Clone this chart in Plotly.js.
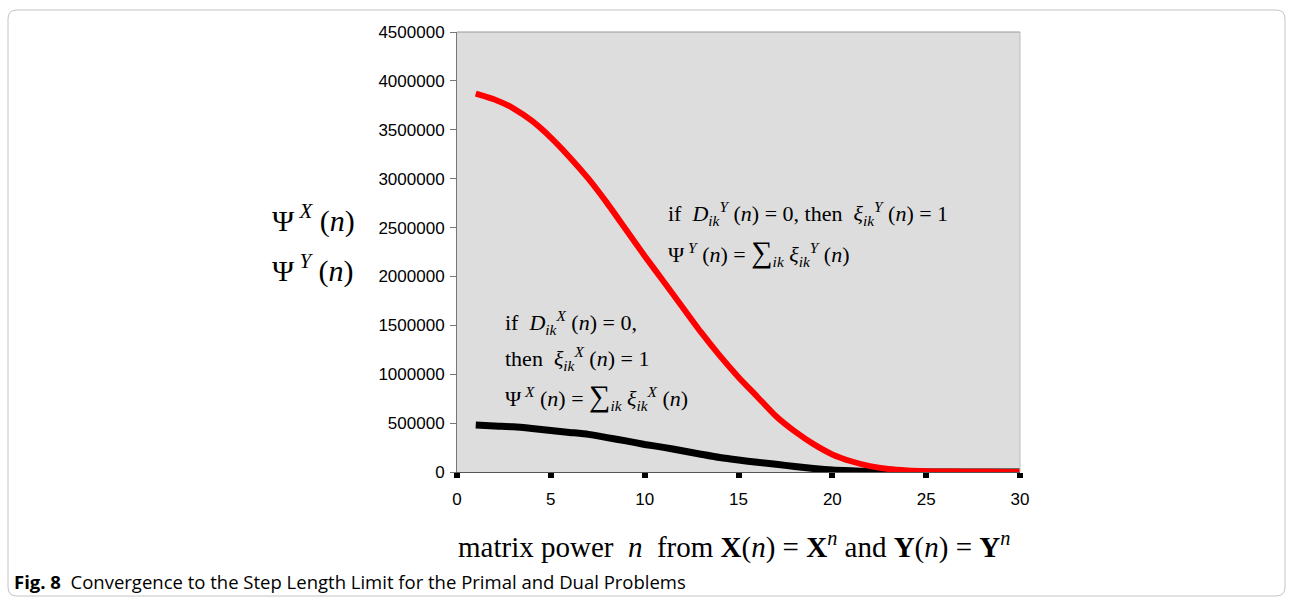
<!DOCTYPE html>
<html>
<head>
<meta charset="utf-8">
<script src="https://cdn.plot.ly/plotly-3.0.1.min.js"></script>
<style>
html,body{margin:0;padding:0;background:#fff;}
#chart{width:1293px;height:598px;}
</style>
</head>
<body>
<div id="chart"></div>
<script>
// Data
const powerN = [1,2,3,4,5,6,7,8,9,10,11,12,13,14,15,16,17,18,19,20,21,22,23,24,25,26,27,28,29,30];
const psiY = [3870000,3810000,3720000,3590000,3420000,3220000,3000000,2750000,2480000,2210000,
              1950000,1690000,1430000,1190000,970000,770000,570000,415000,285000,180000,
              110000,60000,30000,15000,8000,5000,3000,2000,1000,500];
const psiX = [480000,470000,462000,445000,425000,405000,385000,352000,318000,282000,
              252000,218000,182000,148000,122000,100000,80000,56000,36000,20000,
              12000,6000,3000,1500,700,400,200,100,50,20];
const xTicks = [0,5,10,15,20,25,30];
const yTicks = [0,500000,1000000,1500000,2000000,2500000,3000000,3500000,4000000,4500000];

// plot-area geometry in pixels
const W = 1293, H = 598;
const L = 457, R = 1020, T = 32, B = 472;
const px = x => (x - L) / (R - L);
const py = y => (B - y) / (B - T);

const serif = "Liberation Serif, Times New Roman, serif";

const traces = [
  {x: powerN, y: psiX, type: 'scatter', mode: 'lines', name: 'ΨX',
   line: {color: '#000000', width: 7, shape: 'spline', smoothing: 0.6}},
  {x: powerN, y: psiY, type: 'scatter', mode: 'lines', name: 'ΨY',
   line: {color: '#ff0000', width: 6, shape: 'spline', smoothing: 0.6}}
];

function ann(x, y, text, size, anchor) {
  return {xref: 'paper', yref: 'paper', x: px(x), y: py(y), text: text,
          showarrow: false, xanchor: anchor || 'left', yanchor: 'middle',
          font: {family: serif, size: size, color: '#000'}};
}
const SIG = '<span style="font-size:30px">∑</span>';

const r = 9;
const bl = 8, br = 1285, bt = 10, bb = 596;
const borderPath =
  `M ${px(bl)},${py(bt + r)} Q ${px(bl)},${py(bt)} ${px(bl + r)},${py(bt)} ` +
  `L ${px(br - r)},${py(bt)} Q ${px(br)},${py(bt)} ${px(br)},${py(bt + r)} ` +
  `L ${px(br)},${py(bb - r)} Q ${px(br)},${py(bb)} ${px(br - r)},${py(bb)} ` +
  `L ${px(bl + r)},${py(bb)} Q ${px(bl)},${py(bb)} ${px(bl)},${py(bb - r)} Z`;

const layout = {
  width: W, height: H,
  margin: {l: L, r: W - R, t: T, b: H - B, pad: 0},
  paper_bgcolor: '#ffffff',
  plot_bgcolor: '#dddddd',
  showlegend: false,
  xaxis: {
    range: [0, 30], tickvals: xTicks, ticktext: xTicks.map(String),
    ticks: 'outside', ticklen: 5, tickwidth: 6, tickcolor: '#000',
    ticklabelstandoff: 7,
    showline: true, linecolor: '#555', linewidth: 1, mirror: false,
    showgrid: false, zeroline: false,
    tickfont: {family: 'Liberation Sans, Arial, sans-serif', size: 17, color: '#000'}
  },
  yaxis: {
    range: [0, 4500000], tickvals: yTicks, ticktext: yTicks.map(String),
    ticks: 'outside', ticklen: 6, tickwidth: 1, tickcolor: '#777',
    ticklabelstandoff: 2,
    showline: true, linecolor: '#777', linewidth: 1,
    showgrid: false, zeroline: false,
    tickfont: {family: 'Liberation Sans, Arial, sans-serif', size: 17, color: '#000'}
  },
  shapes: [
    {type: 'path', xref: 'paper', yref: 'paper', path: borderPath,
     line: {color: '#c4c4c4', width: 1}, layer: 'below'},
    {type: 'line', xref: 'paper', yref: 'paper', x0: 0, x1: 1, y0: 1, y1: 1,
     line: {color: '#999', width: 1}},
    {type: 'line', xref: 'paper', yref: 'paper', x0: 1, x1: 1, y0: 0, y1: 1,
     line: {color: '#bbb', width: 1}}
  ],
  annotations: [
    ann(270, 218, 'Ψ<sup> <i>X</i></sup> (<i>n</i>)', 30),
    ann(270, 268, 'Ψ<sup> <i>Y</i></sup> (<i>n</i>)', 30),
    ann(666, 213, 'if  <i>D</i><sub><i>ik</i></sub><sup><i>Y</i></sup> (<i>n</i>) = 0, then  <i>ξ</i><sub><i>ik</i></sub><sup><i>Y</i></sup> (<i>n</i>) = 1', 22),
    ann(666, 253, 'Ψ<sup> <i>Y</i></sup> (<i>n</i>) = ' + SIG + '<sub><i>ik</i></sub> <i>ξ</i><sub><i>ik</i></sub><sup><i>Y</i></sup> (<i>n</i>)', 22),
    ann(503, 322, 'if  <i>D</i><sub><i>ik</i></sub><sup><i>X</i></sup> (<i>n</i>) = 0,', 22),
    ann(503, 358, 'then  <i>ξ</i><sub><i>ik</i></sub><sup><i>X</i></sup> (<i>n</i>) = 1', 22),
    ann(503, 396, 'Ψ<sup> <i>X</i></sup> (<i>n</i>) = ' + SIG + '<sub><i>ik</i></sub> <i>ξ</i><sub><i>ik</i></sub><sup><i>X</i></sup> (<i>n</i>)', 22),
    ann(734, 545, 'matrix power  <i>n</i>  from <b>X</b>(<i>n</i>) = <b>X</b><sup><i>n</i></sup> and <b>Y</b>(<i>n</i>) = <b>Y</b><sup><i>n</i></sup>', 29, 'center'),
    {xref: 'paper', yref: 'paper', x: px(12), y: py(581), xanchor: 'left', yanchor: 'middle',
     showarrow: false,
     text: '<b>Fig. 8</b>  Convergence to the Step Length Limit for the Primal and Dual Problems',
     font: {family: 'Open Sans, Noto Sans, sans-serif', size: 18.5, color: '#000'}}
  ]
};

Plotly.newPlot('chart', traces, layout, {displayModeBar: false, staticPlot: true});
</script>
</body>
</html>
